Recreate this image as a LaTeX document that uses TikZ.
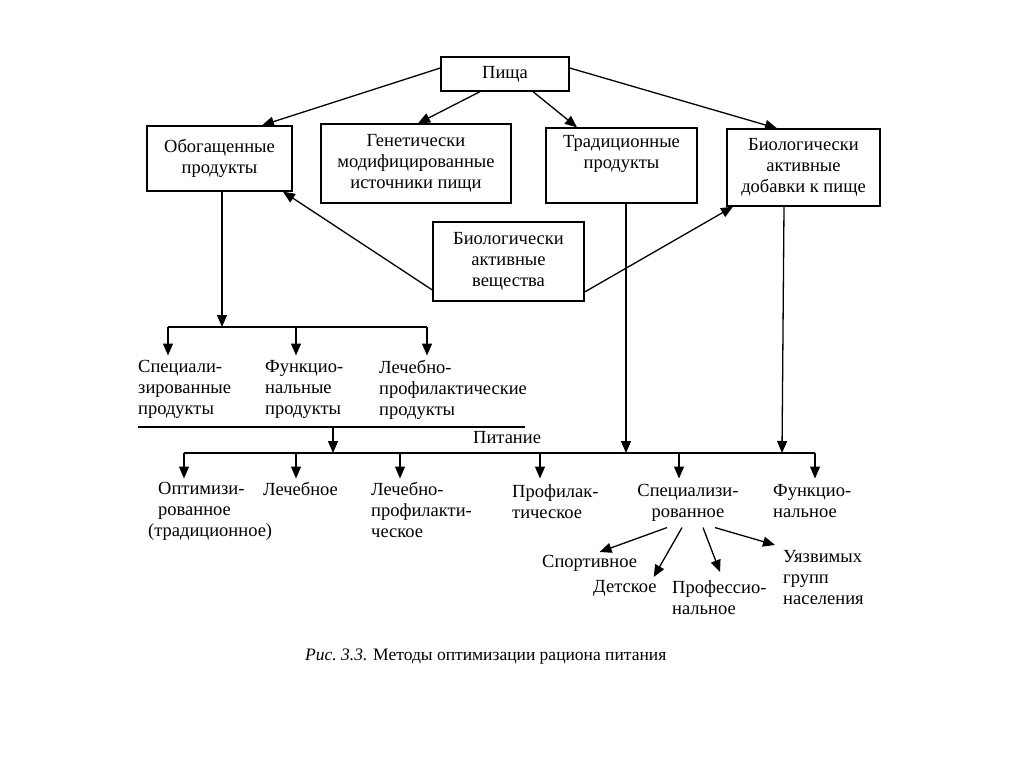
\documentclass[tikz,border=0pt]{standalone}
\usepackage{fontspec}
\setmainfont{Liberation Serif}
\usetikzlibrary{arrows.meta}
\usetikzlibrary{calc}
\tikzset{
	box/.style={draw, line width=1.3pt, align=center, inner sep=0pt},
	lbl/.style={align=left, inner sep=0pt, anchor=north west},
	arr/.style={line width=1.3pt, -{Triangle[length=12pt,width=10pt]}},
	rule/.style={line width=1.3pt}
}

\begin{document}
\begin{tikzpicture}[x=1pt, y=-1pt, every node/.style={font=\fontsize{18.5}{21}\selectfont}]
\useasboundingbox[fill=white] (0,0) rectangle (1024,767);

% top
\node[box, minimum width=128pt, minimum height=34pt] (food) at (505,74) {Пища};

% second row
\node[box, minimum width=145pt, minimum height=65pt] (enriched) at (219.5,158.5) {Обогащенные\\продукты};
\node[box, minimum width=190pt, minimum height=79pt] (gmo) at (416,163.5) {Генетически\\модифицированные\\источники пищи};
\node[box, minimum width=151pt, minimum height=75pt] (trad) at (621.5,165.5) {Традиционные\\продукты\\\strut};
\node[box, minimum width=153pt, minimum height=77pt] (bad) at (803.5,167.5) {Биологически\\активные\\добавки к пище};
\node[box, minimum width=151pt, minimum height=79pt] (bas) at (508.5,261.5) {Биологически\\активные\\вещества};

\draw[arr] ([yshift=6pt]food.west) -- ([xshift=42.5pt]enriched.north);
\draw[arr] ([xshift=-25pt]food.south) -- ([xshift=2pt]gmo.north);
\draw[arr] ([xshift=28pt]food.south) -- ([xshift=-44.5pt]trad.north);
\draw[arr] ([yshift=6pt]food.east) -- ([xshift=-26.5pt]bad.north);
\draw[arr] ([yshift=-28.5pt]bas.west) -- ([xshift=63.5pt]enriched.south);
\draw[arr] ([yshift=-30.5pt]bas.east) -- ([xshift=-70.5pt]bad.south);

% products
\coordinate (fork1) at (222,327);
\coordinate (fork1 l) at (168,327);
\coordinate (fork1 m) at (296,327);
\coordinate (fork1 r) at (427,327);
\node[lbl] (specprod) at (138,360) {Специали-\\зированные\\продукты};
\node[lbl] (funcprod) at (265,360) {Функцио-\\нальные\\продукты};
\node[lbl] (medprod) at (379,360) {Лечебно-\\профилактические\\продукты};

\draw[arr] ([xshift=2.5pt]enriched.south) -- (fork1);
\draw[rule] (fork1 l) -- (fork1 r);
\draw[arr] (fork1 l) -- ([yshift=4.5pt]fork1 l |- specprod.north);
\draw[arr] (fork1 m) -- ([yshift=4.5pt]fork1 m |- funcprod.north);
\draw[arr] (fork1 r) -- ([yshift=4.5pt]fork1 r |- medprod.north);

% nutrition
\coordinate (sep l) at (138,427);
\coordinate (sep r) at (525,427);
\coordinate (sep m) at (333,427);
\draw[rule] (sep l) -- (sep r);
\node[lbl] (nutrition) at (473,431.5) {Питание};

\coordinate (fork2 a) at (184,453);
\coordinate (fork2 b) at (296,453);
\coordinate (fork2 c) at (400,453);
\coordinate (fork2 d) at (540,453);
\coordinate (fork2 e) at (679,453);
\coordinate (fork2 f) at (815,453);
\draw[arr] (sep m) -- (sep m |- fork2 a);
\draw[rule] (fork2 a) -- (fork2 f);
\draw[arr] ([xshift=4.5pt]trad.south) -- ([xshift=4.5pt]trad.south |- fork2 a);
\draw[arr] ([xshift=-19.5pt]bad.south) -- ([xshift=-21.5pt]bad.south |- fork2 a);

\node[lbl] (optim) at (158,482.5) {Оптимизи-\\рованное\\\hspace*{-10pt}(традиционное)};
\node[lbl] (medical) at (263,482.5) {Лечебное};
\node[lbl] (medprof) at (371,482.5) {Лечебно-\\профилакти-\\ческое};
\node[lbl] (prophyl) at (512,484) {Профилак-\\тическое};
\node[inner sep=0pt, align=center, anchor=north] (special) at (688,484) {Специализи-\\рованное};
\node[lbl] (functional) at (773,484) {Функцио-\\нальное};

\draw[arr] (fork2 a) -- ([yshift=4pt]fork2 a |- optim.north);
\draw[arr] (fork2 b) -- ([yshift=4pt]fork2 b |- medical.north);
\draw[arr] (fork2 c) -- ([yshift=4pt]fork2 c |- medprof.north);
\draw[arr] (fork2 d) -- ([yshift=5.5pt]fork2 d |- prophyl.north);
\draw[arr] (fork2 e) -- ([yshift=5.5pt]fork2 e |- special.north);
\draw[arr] (fork2 f) -- ([yshift=5.5pt]fork2 f |- functional.north);

% specialised
\node[lbl] (sport) at (542,555) {Спортивное};
\node[lbl] (child) at (593,580) {Детское};
\node[lbl] (prof) at (672,580) {Профессио-\\нальное};
\node[lbl] (vulner) at (783,550) {Уязвимых\\групп\\населения};

\draw[arr] ([xshift=-21pt,yshift=-6pt]special.south) -- ([xshift=10pt,yshift=3pt]sport.north);
\draw[arr] ([xshift=-6pt,yshift=-6pt]special.south) -- ([xshift=-3pt,yshift=3pt]child.north east);
\draw[arr] ([xshift=15pt,yshift=-6pt]special.south) -- ([xshift=48pt,yshift=8pt]prof.north west);
\draw[arr] ([xshift=27pt,yshift=-6pt]special.south) -- ([xshift=-8pt,yshift=5pt]vulner.north west);

% caption
\node[lbl, font=\fontsize{17.5}{21}\selectfont] (caption) at (305,649) {\textit{Рис.\ 3.3.} Методы оптимизации рациона питания};
\end{tikzpicture}
\end{document}
